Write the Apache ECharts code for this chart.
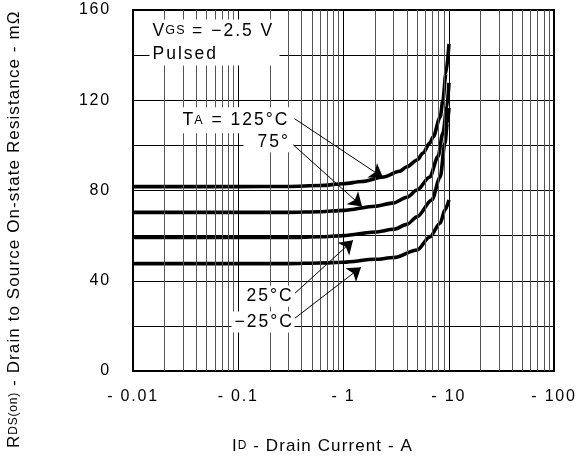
<!DOCTYPE html>
<html>
<head>
<meta charset="utf-8">
<script src="https://cdn.jsdelivr.net/npm/echarts@6/dist/echarts.min.js"></script>
<style>html,body{margin:0;padding:0;background:#fff}#c{width:579px;height:462px}</style>
</head>
<body>
<div id="c"></div>
<script>
// ---------------- data ----------------
const xTickLabels = ['- 0.01', '- 0.1', '- 1', '- 10', '- 100'];
const yTickLabels = ['0', '40', '80', '120', '160'];

const id125 = [0.01, 0.1, 0.3, 0.6, 1, 1.5, 2.4, 3.4, 4, 5, 5.7, 6.6, 7.1, 8.3, 8.8, 9.4, 10.05];
const rds125 = [81.7, 81.7, 81.8, 82.2, 83, 84, 86, 88.5, 90.5, 93.5, 96.6, 101, 103.7, 112.6, 120, 132, 145];

const id75 = [0.01, 0.3, 0.6, 1, 2, 3, 4, 5, 6.6, 7.9, 8.8, 9.6, 10.05];
const rds75 = [70.3, 70.3, 70.6, 71.2, 73, 74.5, 77, 80.2, 86, 95, 105.5, 117, 127.7];

const id25 = [0.01, 0.3, 0.6, 1, 2, 3, 4, 5, 6.9, 8.3, 9.2, 9.7, 10.05];
const rds25 = [59.2, 59.2, 59.5, 60, 61.6, 62.8, 65, 68.3, 75.8, 86, 101, 110, 116.6];

const idM25 = [0.01, 0.3, 0.6, 1, 2, 3, 5, 6.6, 8.3, 9.2, 10.05];
const rdsM25 = [47.6, 47.6, 47.9, 48.2, 49.5, 50.3, 53.6, 59.4, 65.6, 71.4, 75.8];

const minorGridValues = [];
[0.01, 0.1, 1, 10].forEach(function (d) { for (let m = 2; m <= 9; m++) minorGridValues.push(+(d * m).toPrecision(3)); });

// ---------------- text letter spacing (reference uses wide tracking) ----------------
(function () {
  const proto = CanvasRenderingContext2D.prototype;
  if (!('letterSpacing' in proto)) return;
  const orig = proto.fillText;
  const table = { '16': 1.8, '17': 1.1, '17.5': 2.0, '12': 0.8, '12.5': 1.4 };
  proto.fillText = function (t, x, y, m) {
    const mm = /([\d.]+)px/.exec(this.font);
    const sp = mm && table[mm[1]] != null ? table[mm[1]] : 0;
    this.letterSpacing = sp + 'px';
    return m === undefined ? orig.call(this, t, x, y) : orig.call(this, t, x, y, m);
  };
})();

// ---------------- chart ----------------
const FONT = '"Liberation Sans", Arial, Helvetica, sans-serif';
function zip(xs, ys) { return xs.map(function (x, i) { return [x, ys[i]]; }); }

const mainTxt = { fontFamily: FONT, fontSize: 17.5, color: '#000', verticalAlign: 'middle', align: 'left' };
const subTxt = { fontFamily: FONT, fontSize: 12.5, color: '#000', verticalAlign: 'middle', align: 'left', padding: [0, 2, 0, 1] };
function annot(coord, text, w, h, pl) {
  const lh = h > 30 ? 23 : h;
  return {
    coord: coord,
    symbol: 'rect', symbolSize: 1, itemStyle: { color: 'rgba(0,0,0,0)' },
    label: {
      show: true, position: [0, 0], formatter: function () { return text; },
      width: w - pl, height: h, padding: [0, 0, 0, pl], backgroundColor: '#fff',
      align: 'left', verticalAlign: 'top',
      rich: {
        v: Object.assign({}, mainTxt, { lineHeight: lh }),
        s: Object.assign({}, subTxt, { lineHeight: lh })
      }
    }
  };
}

const lineStyleCurve = { color: '#000', width: 3.6 };
function curve(name, xs, ys) {
  return {
    name: name, type: 'line', data: zip(xs, ys), showSymbol: false, symbol: 'none',
    smooth: 0.3, smoothMonotone: 'x', lineStyle: lineStyleCurve, z: 3, silent: true
  };
}

const chart = echarts.init(document.getElementById('c'), null, { renderer: 'canvas' });
chart.setOption({
  animation: false,
  backgroundColor: '#fff',
  grid: { left: 133, right: 25, top: 10, bottom: 91, show: true, borderColor: '#000', borderWidth: 2, backgroundColor: 'transparent' },
  xAxis: {
    type: 'log', logBase: 10, min: 0.01, max: 100,
    axisLine: { show: true, lineStyle: { color: '#000', width: 2 } },
    axisTick: { show: false },
    splitLine: { show: true, lineStyle: { color: '#000', width: 1 } },
    axisLabel: {
      margin: 18, fontFamily: FONT, fontSize: 16, color: '#000',
      formatter: function (v) { const i = Math.round(Math.log10(v)) + 2; return xTickLabels[i] || ''; }
    }
  },
  yAxis: {
    type: 'value', min: 0, max: 160, interval: 20,
    axisLine: { show: true, lineStyle: { color: '#000', width: 2 } },
    axisTick: { show: false },
    splitLine: { show: true, lineStyle: { color: '#000', width: 1 } },
    axisLabel: {
      margin: 22, fontFamily: FONT, fontSize: 16, color: '#000',
      formatter: function (v) { const i = yTickLabels.indexOf(String(Math.round(v))); return i >= 0 ? yTickLabels[i] : ''; }
    }
  },
  graphic: [
    {
      type: 'text', x: 14, y: 448, rotation: Math.PI / 2, silent: true,
      style: {
        text: '{m|R}{s|DS(on)}{m| - Drain to Source On-state Resistance - mΩ}',
        align: 'left', verticalAlign: 'middle',
        rich: {
          m: { fontFamily: FONT, fontSize: 17, fill: '#000', lineHeight: 20, verticalAlign: 'middle' },
          s: { fontFamily: FONT, fontSize: 12, fill: '#000', lineHeight: 20, verticalAlign: 'middle', padding: [0, 5, 0, 1] }
        }
      }
    },
    {
      type: 'text', x: 232, y: 446, silent: true,
      style: {
        text: '{m|I}{s|D}{m| - Drain Current - A}',
        align: 'left', verticalAlign: 'middle',
        rich: {
          m: { fontFamily: FONT, fontSize: 17, fill: '#000', lineHeight: 20, verticalAlign: 'middle' },
          s: { fontFamily: FONT, fontSize: 12, fill: '#000', lineHeight: 20, verticalAlign: 'middle', padding: [0, 1, 0, 1] }
        }
      }
    }
  ],
  series: [
    {
      name: 'grid', type: 'line', data: [], z: 1, silent: true,
      markLine: {
        silent: true, animation: false, symbol: ['none', 'none'],
        label: { show: false },
        lineStyle: { color: '#555', width: 1, type: 'solid' },
        data: minorGridValues.map(function (v) { return { xAxis: v }; })
      }
    },
    {
      name: 'notes', type: 'line', data: [], z: 2, silent: true,
      markPoint: {
        silent: true, animation: false,
        data: [
          annot([0.01451, 155.6], '{v|V}{s|GS}{v| = −2.5 V}\n{v|Pulsed}', 130, 46, 3),
          annot([0.02797, 116.7], '{v|T}{s|A}{v| = 125°C}', 115, 26, 3),
          annot([0.1134, 105.6], '{v|75°}', 50, 20, 14),
          annot([0.1086, 37.6], '{v|25°C}', 52, 21, 5),
          annot([0.0872, 26.1], '{v|−25°C}', 63, 21, 3)
        ]
      },
      markLine: {
        silent: true, animation: false, symbol: ['none', 'arrow'], symbolSize: 13,
        label: { show: false },
        itemStyle: { color: '#000' },
        lineStyle: { color: '#000', width: 1, type: 'solid' },
        data: [
          [{ coord: [0.3313, 112.27] }, { coord: [2.373, 85.75] }],
          [{ coord: [0.3241, 100.77] }, { coord: [1.499, 72.93] }],
          [{ coord: [0.3461, 34.48] }, { coord: [1.231, 57.90] }],
          [{ coord: [0.3461, 23.43] }, { coord: [1.467, 45.97] }]
        ]
      }
    },
    curve('125°C', id125, rds125),
    curve('75°C', id75, rds75),
    curve('25°C', id25, rds25),
    curve('−25°C', idM25, rdsM25)
  ]
});
</script>
</body>
</html>
